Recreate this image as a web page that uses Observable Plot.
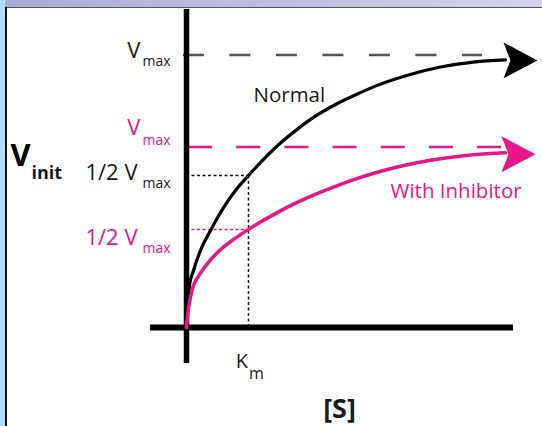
<!DOCTYPE html>
<html><head><meta charset="utf-8">
<script src="https://cdn.jsdelivr.net/npm/d3@7"></script>
<script src="https://cdn.jsdelivr.net/npm/@observablehq/plot@0.6"></script>
<style>
html,body{margin:0;padding:0;background:#fff;}
#wrap{position:relative;width:542px;height:426px;overflow:hidden;background:#fff;}
#wrap svg{display:block;position:absolute;left:0;top:0;}
.deco{position:absolute;}
#top{left:5px;top:0;width:537px;height:7px;background:linear-gradient(to right,#a9acd8,#d2d2ee);}
#topline{left:5px;top:7px;width:537px;height:1px;background:#555;}
#left{left:0;top:0;width:5px;height:426px;background:#b3dcfb;}
#leftline{left:5px;top:7px;width:2px;height:419px;background:#111;}
</style></head><body>
<div id="wrap"></div>
<script>
// ---- data ----
// substrate concentration [S] (units of Km) and initial velocity (units of normal Vmax)
const sNormal = [0, 0.048, 0.113, 0.226, 0.387, 0.597, 0.790, 1.0, 1.242, 1.516, 1.790, 2.048, 2.435, 2.806, 3.016, 3.565, 4.097, 4.629, 5.145];
const vNormal = [0, 0.154, 0.209, 0.283, 0.356, 0.440, 0.503, 0.558, 0.617, 0.677, 0.728, 0.771, 0.822, 0.862, 0.883, 0.926, 0.956, 0.974, 0.982];
const sInhib  = [0, 0.016, 0.032, 0.065, 0.113, 0.161, 0.226, 0.387, 0.581, 0.790, 1.0, 1.194, 1.435, 1.710, 2.048, 2.435, 2.806, 3.210, 3.613, 4.097, 4.629, 5.145];
const vInhib  = [0, 0.040, 0.070, 0.112, 0.154, 0.176, 0.200, 0.248, 0.292, 0.328, 0.360, 0.387, 0.418, 0.451, 0.486, 0.521, 0.551, 0.578, 0.600, 0.619, 0.634, 0.641];
const tipNormal = {s: 5.661, v: 0.980};
const tipInhib  = {s: 5.629, v: 0.636};
// reference levels
const vmaxNormal = 1.0;
const vmaxInhib = 0.662;
const halfNormal = 0.558;
const halfInhib = 0.360;
const km = 1.0;
// text
const curveNames = ["Normal", "With Inhibitor"];
const yTitle = ["V", "init"];
const xTitle = "[S]";
const kmLabel = ["K", "m"];
const levelMain = ["V", "V", "1/2 V", "1/2 V"];
const levelSub = "max";

const pink = "#e8158b";
const ink = "#1a1a1a";
const FONT = "'Open Sans', 'Noto Sans', sans-serif";

const arrowHead = {draw(ctx) {
  ctx.moveTo(0, 0); ctx.lineTo(-34, -18); ctx.lineTo(-27, 0); ctx.lineTo(-34, 18); ctx.closePath();
}};

function at(txt, x, y, o) {
  return Plot.text([txt], {x: () => x, y: () => y, text: d => d, lineAnchor: "bottom", fontFamily: FONT, ...o});
}
function fixed(txt, o) {
  return Plot.text([txt], {frameAnchor: "top-left", text: d => d, lineAnchor: "bottom", fontFamily: FONT, ...o});
}

const levels = [vmaxNormal, vmaxInhib, halfNormal, halfInhib];
const levelColor = [ink, pink, ink, pink];
const mainDy = [2.5, -11.7, 5, 16];
const subDy = [10.5, -1.7, 13, 24];
const mainDx = [-46, -46, -49, -49];

const marks = [
  Plot.ruleY([vmaxNormal], {x1: -0.05, x2: 4.774, stroke: "#555", strokeWidth: 2.5, strokeDasharray: "21,25.5"}),
  Plot.ruleY([vmaxInhib], {x1: 0.032, x2: 5.08, stroke: pink, strokeWidth: 2.5, strokeDasharray: "24,24.2"}),
  Plot.ruleY([halfNormal], {x1: 0, x2: km, stroke: "#111", strokeWidth: 1.5, strokeDasharray: "3,2.5"}),
  Plot.ruleY([halfInhib], {x1: 0, x2: km, stroke: pink, strokeWidth: 1.5, strokeDasharray: "3,2.5"}),
  Plot.ruleX([km], {y1: 0, y2: halfNormal, stroke: "#111", strokeWidth: 1.5, strokeDasharray: "3,2.5"}),
  // axes
  Plot.ruleX([0], {y1: -0.132, y2: 1.167, stroke: "#000", strokeWidth: 5.5}),
  Plot.ruleY([0], {x1: -0.58, x2: 5.274, stroke: "#000", strokeWidth: 6}),
  // curves
  Plot.line(sNormal, {x: sNormal, y: vNormal, stroke: "#000", strokeWidth: 3.2, curve: "monotone-x"}),
  Plot.line(sInhib, {x: sInhib, y: vInhib, stroke: pink, strokeWidth: 3.5, curve: "monotone-x"}),
  Plot.dot([tipNormal], {x: "s", y: "v", symbol: arrowHead, fill: "#000", stroke: "none"}),
  Plot.dot([tipInhib], {x: "s", y: "v", symbol: arrowHead, fill: pink, stroke: "none"}),
  // level labels
  ...levels.flatMap((lv, i) => [
    at(levelMain[i], 0, lv, {textAnchor: "end", dx: mainDx[i], dy: mainDy[i], fontSize: 22, fill: levelColor[i]}),
    at(levelSub, 0, lv, {textAnchor: "start", dx: -44, dy: subDy[i], fontSize: 14, fill: levelColor[i]})
  ]),
  // Km
  at(kmLabel[0], km, 0, {textAnchor: "end", dx: -0.5, dy: 40, fontSize: 20, fill: ink}),
  at(kmLabel[1], km, 0, {textAnchor: "start", dx: 0.5, dy: 51, fontSize: 16, fill: ink}),
  // titles
  fixed(yTitle[0], {dx: 10, dy: 165, textAnchor: "start", fontSize: 31, fontWeight: "bold", fill: "#000"}),
  fixed(yTitle[1], {dx: 31, dy: 178, textAnchor: "start", fontSize: 18, fontWeight: "bold", fill: ink}),
  fixed(xTitle, {dx: 339, dy: 417, textAnchor: "middle", fontSize: 27, fontWeight: "bold", fill: ink}),
  fixed(curveNames[0], {dx: 253, dy: 101, textAnchor: "start", fontSize: 20.5, fill: ink}),
  fixed(curveNames[1], {dx: 390, dy: 197, textAnchor: "start", fontSize: 20.5, fill: pink})
];

const chart = Plot.plot({
  width: 542,
  height: 426,
  margin: 0,
  x: {domain: [-3, 5.742], range: [0, 542], axis: null},
  y: {domain: [-0.3633, 1.2], range: [426, 0], axis: null},
  style: {background: "transparent", fontFamily: FONT, overflow: "visible"},
  marks
});
const wrap = document.getElementById("wrap");
wrap.appendChild(chart);
for (const id of ["top", "topline", "left", "leftline"]) {
  const d = document.createElement("div");
  d.id = id; d.className = "deco";
  wrap.appendChild(d);
}
</script>
</body></html>
